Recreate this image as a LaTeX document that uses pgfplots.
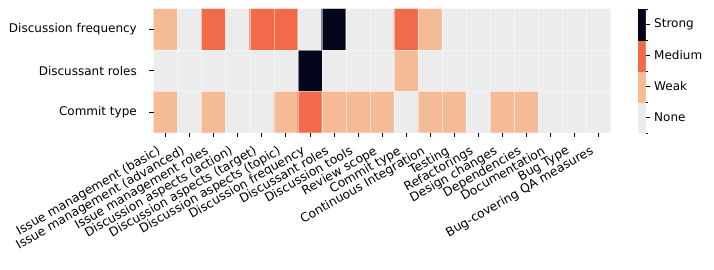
\documentclass[border=0pt]{standalone}
\usepackage{pgfplots}
\pgfplotsset{compat=1.18}
\usepackage{fontspec}
\setmainfont{DejaVu Sans}
\pgfplotsset{
  colormap={relmap}{rgb255=(236,236,236) rgb255=(245,187,151) rgb255=(241,107,74) rgb255=(3,5,26)},
}
\begin{document}
\begin{tikzpicture}
\pgfplotsset{every axis/.append style={font=\fontsize{12}{14}\selectfont}}
\begin{axis}[
  at={(153.5pt,137.5pt)}, anchor=south west,
  width=457pt, height=123.5pt, scale only axis,
  colormap name=relmap, colormap access=direct,
  xmin=-0.5, xmax=18.5, ymin=-0.5, ymax=2.5, y dir=reverse,
  axis line style={draw=none},
  tick align=outside, major tick length=4.5pt, minor tick length=0pt,
  tick style={black, line width=0.6pt},
  xtick pos=bottom, ytick pos=left,
  xtick={0,...,18},
  xticklabels={Issue management (basic),Issue management (advanced),Issue management roles,Discussion aspects (action),Discussion aspects (target),Discussion aspects (topic),Discussion frequency,Discussant roles,Discussion tools,Review scope,Commit type,Continuous Integration,Testing,Refactorings,Design changes,Dependencies,Documentation,Bug Type,Bug-covering QA measures},
  xticklabel style={font=\fontsize{12.3}{14}\selectfont, xshift=-9pt, yshift=-8pt, rotate=30, anchor=north east, inner sep=0pt},
  ytick={0,1,2},
  yticklabels={Discussion frequency,Discussant roles,Commit type},
  yticklabel style={inner sep=0pt, xshift=-12pt},
  minor xtick={0.5,1.5,...,17.5}, minor ytick={0.5,1.5},
  xminorgrids, yminorgrids,
  minor grid style={white, line width=0.4pt, opacity=0.5},
  axis on top,
]
\addplot[matrix plot*, mesh/cols=19, point meta=explicit] table[meta=c] {
x y c
0 0 1
1 0 0
2 0 2
3 0 0
4 0 2
5 0 2
6 0 0
7 0 3
8 0 0
9 0 0
10 0 2
11 0 1
12 0 0
13 0 0
14 0 0
15 0 0
16 0 0
17 0 0
18 0 0
0 1 0
1 1 0
2 1 0
3 1 0
4 1 0
5 1 0
6 1 3
7 1 0
8 1 0
9 1 0
10 1 1
11 1 0
12 1 0
13 1 0
14 1 0
15 1 0
16 1 0
17 1 0
18 1 0
0 2 1
1 2 0
2 2 1
3 2 0
4 2 0
5 2 1
6 2 2
7 2 1
8 2 1
9 2 1
10 2 0
11 2 1
12 2 1
13 2 0
14 2 1
15 2 1
16 2 0
17 2 0
18 2 0
};
\end{axis}
\begin{axis}[
  at={(638pt,137pt)}, anchor=south west,
  width=7.5pt, height=124pt, scale only axis,
  colormap name=relmap, colormap access=direct,
  xmin=-0.5, xmax=1.5, ymin=-0.5, ymax=3.5,
  axis line style={draw=none},
  xtick=\empty,
  ytick={0,1,2,3}, yticklabels={None,Weak,Medium,Strong},
  ytick pos=right, yticklabel pos=right,
  tick align=outside, major tick length=4.5pt,
  minor ytick={-0.5,0.5,1.5,2.5,3.5}, minor tick length=2pt,
  tick style={black, line width=0.6pt},
  yticklabel style={inner sep=0pt, xshift=4pt},
]
\addplot[matrix plot*, mesh/cols=2, point meta=explicit] table[meta=c] {
x y c
0 0 0
1 0 0
0 1 1
1 1 1
0 2 2
1 2 2
0 3 3
1 3 3
};
\end{axis}
\pgfresetboundingbox
\useasboundingbox (0,0) rectangle (714pt,270pt);
\end{tikzpicture}
\end{document}
